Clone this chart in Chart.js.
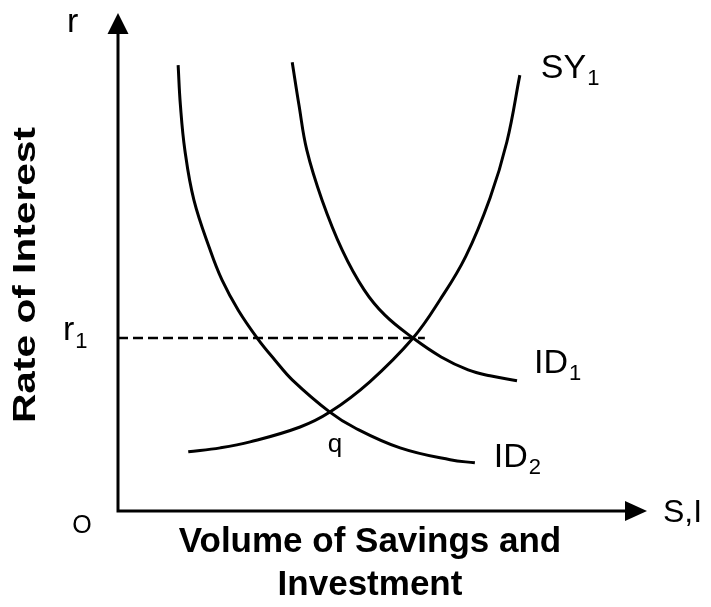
<!DOCTYPE html>
<html>
<head>
<meta charset="utf-8">
<title>Savings and Investment</title>
<script src="https://cdn.jsdelivr.net/npm/chart.js@4.4.1/dist/chart.umd.min.js"></script>
<style>
  html, body { margin: 0; padding: 0; background: #fff; }
  #wrap { width: 711px; height: 607px; }
</style>
</head>
<body>
<div id="wrap"><canvas id="graph" width="711" height="607"></canvas></div>
<script>
// -------------------------
// DATA (volume S,I on x, rate of interest r on y, 0..100 units)
// -------------------------
const id2X = [10.7, 11.1, 11.9, 13.5, 16.4, 18.5, 21.4, 24.9, 27.9, 31.0, 37.7, 42.2, 50.2, 59.1, 63.5];
const id2Y = [89.7, 81.7, 72.6, 62.6, 52.5, 46.5, 40.4, 34.6, 30.4, 26.4, 19.9, 16.7, 12.7, 10.3, 9.7];

const id1X = [31.0, 32.2, 33.6, 36.3, 39.9, 43.8, 47.5, 52.5, 57.5, 62.3, 66.2, 71.0];
const id1Y = [90.3, 81.7, 72.6, 62.6, 52.5, 44.5, 39.4, 34.8, 31.0, 28.4, 27.2, 26.2];

const sy1X = [12.5, 18.2, 23.5, 32.4, 37.7, 44.8, 52.5, 57.3, 61.9, 66.2, 69.2, 71.5];
const sy1Y = [11.9, 12.7, 13.9, 16.9, 19.9, 26.0, 34.8, 42.5, 51.3, 63.0, 74.3, 87.7];

const r1Value = 34.8;        // equilibrium rate
const r1LineEnd = 54.6;      // dashed line runs from the r axis to here

const curveLabels = ["ID2", "ID1", "SY1"];

function toPoints(xs, ys) {
  return xs.map((x, i) => ({ x: x, y: ys[i] }));
}

const FONT = '"Liberation Sans", Arial, Helvetica, sans-serif';

// -------------------------
// AXES + ARROWS
// -------------------------
const axesPlugin = {
  id: "axesPlugin",
  beforeDatasetsDraw(chart) {
    const ctx = chart.ctx;
    const xs = chart.scales.x;
    const ys = chart.scales.y;
    const x0 = xs.getPixelForValue(0);
    const y0 = ys.getPixelForValue(0);
    const yTip = 13;
    const xTip = 647;

    ctx.save();
    ctx.strokeStyle = "#000";
    ctx.fillStyle = "#000";
    ctx.lineWidth = 3;
    ctx.lineCap = "butt";

    ctx.beginPath();
    ctx.moveTo(x0, y0 + 1.5);
    ctx.lineTo(x0, yTip + 18);
    ctx.moveTo(x0 - 1.5, y0);
    ctx.lineTo(xTip - 20, y0);
    ctx.stroke();

    // arrow heads
    ctx.beginPath();
    ctx.moveTo(x0, yTip);
    ctx.lineTo(x0 - 10.5, yTip + 21);
    ctx.lineTo(x0 + 10.5, yTip + 21);
    ctx.closePath();
    ctx.fill();

    ctx.beginPath();
    ctx.moveTo(xTip, y0);
    ctx.lineTo(xTip - 22, y0 - 10);
    ctx.lineTo(xTip - 22, y0 + 10);
    ctx.closePath();
    ctx.fill();
    ctx.restore();
  }
};

// -------------------------
// TEXT LABELS
// -------------------------
function subLabel(ctx, main, sub, x, y, size, subSize, drop) {
  ctx.font = size + "px " + FONT;
  ctx.fillText(main, x, y);
  const w = ctx.measureText(main).width;
  ctx.font = subSize + "px " + FONT;
  ctx.fillText(sub, x + w + 1, y + drop);
}

const labelPlugin = {
  id: "labelPlugin",
  afterDraw(chart) {
    const ctx = chart.ctx;
    const xs = chart.scales.x;
    const ys = chart.scales.y;
    const x0 = xs.getPixelForValue(0);
    const y0 = ys.getPixelForValue(0);
    const yr1 = ys.getPixelForValue(r1Value);

    ctx.save();
    ctx.fillStyle = "#000";
    ctx.textBaseline = "alphabetic";
    ctx.textAlign = "left";

    // axis letters
    ctx.font = "34px " + FONT;
    ctx.fillText("r", x0 - 51, 32);
    subLabel(ctx, "r", "1", x0 - 55, yr1 + 2, 34, 22, 8);
    ctx.font = "25px " + FONT;
    ctx.textAlign = "center";
    ctx.fillText("O", x0 - 36, y0 + 22);
    ctx.textAlign = "left";
    ctx.font = "32px " + FONT;
    ctx.fillText("S,I", 663, y0 + 11);

    // curve names
    const ends = {
      ID2: [id2X[id2X.length - 1], id2Y[id2Y.length - 1]],
      ID1: [id1X[id1X.length - 1], id1Y[id1Y.length - 1]],
      SY1: [sy1X[sy1X.length - 1], sy1Y[sy1Y.length - 1]]
    };
    const offs = { ID2: [19, 4], ID1: [17, -8], SY1: [21, 3] };
    curveLabels.forEach(name => {
      const e = ends[name];
      const px = xs.getPixelForValue(e[0]) + offs[name][0];
      const py = ys.getPixelForValue(e[1]) + offs[name][1];
      subLabel(ctx, name.slice(0, 2), name.slice(2), px, py, 34, 22, 7);
    });

    // intersection q
    ctx.font = "26px " + FONT;
    ctx.textAlign = "center";
    ctx.fillText("q", xs.getPixelForValue(sy1X[4]) + 5, ys.getPixelForValue(sy1Y[4]) + 40);

    // axis titles
    ctx.font = "bold 35px " + FONT;
    ctx.fillText("Volume of Savings and", 370, 552);
    ctx.fillText("Investment", 370, 595);

    ctx.translate(35, 275);
    ctx.rotate(-Math.PI / 2);
    ctx.font = "bold 32px " + FONT;
    const tw = ctx.measureText("Rate of Interest").width;
    ctx.scale(296 / tw, 1);
    ctx.fillText("Rate of Interest", 0, 0);
    ctx.restore();
  }
};

// -------------------------
// INIT CHART
// -------------------------
function curve(xs, ys, label) {
  return {
    label: label,
    data: toPoints(xs, ys),
    showLine: true,
    borderColor: "#000",
    borderWidth: 3,
    pointRadius: 0,
    tension: 0.4,
    fill: false
  };
}

function initChart() {
  const ctx = document.getElementById("graph").getContext("2d");

  new Chart(ctx, {
    type: "scatter",
    data: {
      datasets: [
        curve(id2X, id2Y, curveLabels[0]),
        curve(id1X, id1Y, curveLabels[1]),
        curve(sy1X, sy1Y, curveLabels[2]),
        {
          label: "r1",
          data: [{ x: 0, y: r1Value }, { x: r1LineEnd, y: r1Value }],
          showLine: true,
          borderColor: "#000",
          borderWidth: 2.5,
          borderDash: [10, 5],
          pointRadius: 0,
          fill: false
        }
      ]
    },
    options: {
      responsive: false,
      animation: false,
      layout: { padding: { left: 118, right: 31, top: 14, bottom: 96 } },
      plugins: {
        legend: { display: false },
        tooltip: { enabled: false }
      },
      scales: {
        x: { type: "linear", min: 0, max: 100, display: false },
        y: { type: "linear", min: 0, max: 100, display: false }
      }
    },
    plugins: [axesPlugin, labelPlugin]
  });
}

initChart();
</script>
</body>
</html>
